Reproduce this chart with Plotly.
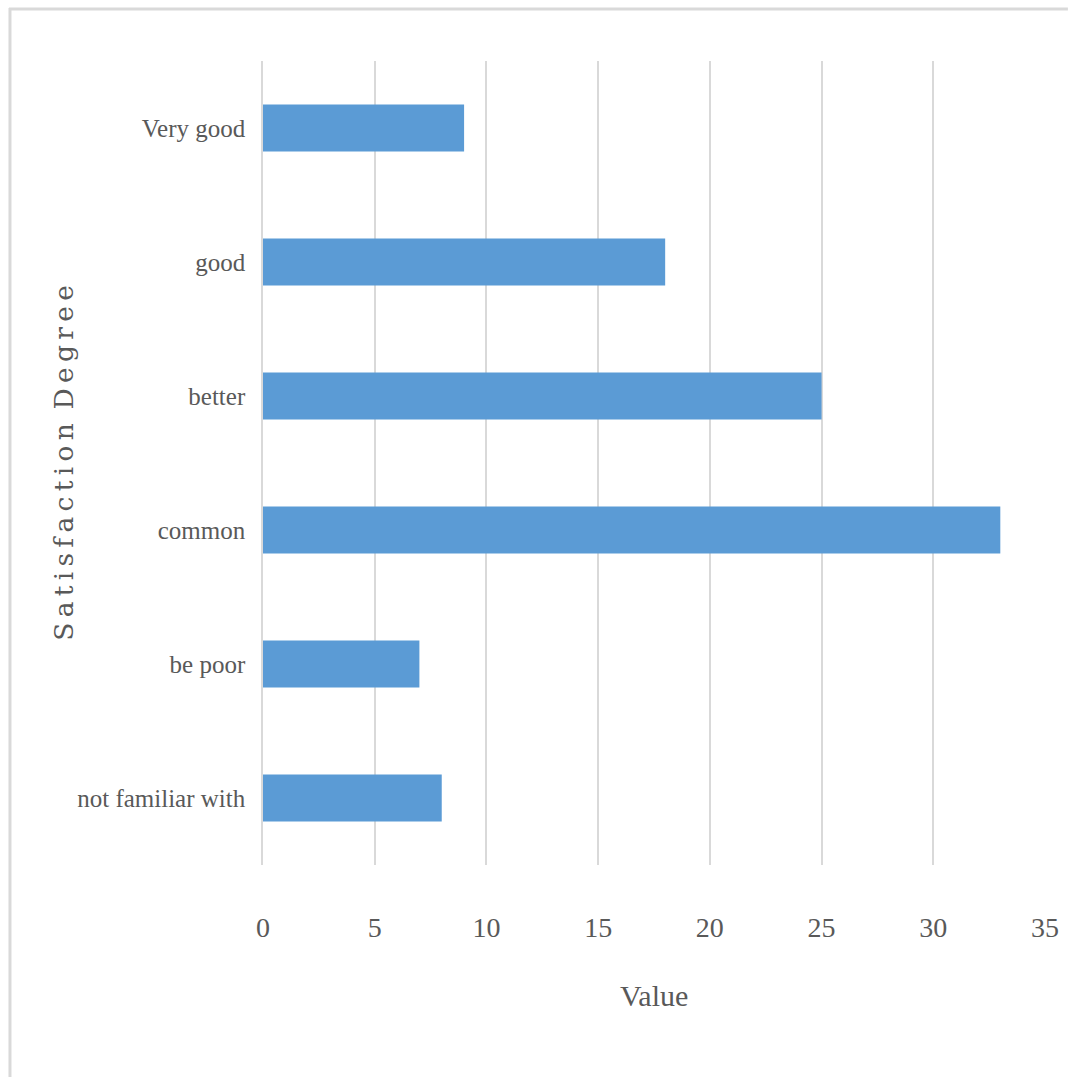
import plotly.graph_objects as go

categories = ["not familiar with", "be poor", "common", "better", "good", "Very good"]
values = [8, 7, 33, 25, 18, 9]
x_ticks = [0, 5, 10, 15, 20, 25, 30, 35]

W, H = 1071, 1077
L, R, T, B = 263, 1071 - 1048, 61, 1077 - 865
pw, ph = W - L - R, H - T - B

def px(x):
    return (x - L) / pw

def py(y):
    return (H - B - y) / ph

fig = go.Figure(go.Bar(
    x=values, y=categories, orientation="h",
    marker=dict(color="#5B9BD5", line=dict(width=0)),
    width=0.35,
))

font_fam = "Liberation Serif, Times New Roman, serif"
fig.update_layout(
    width=W, height=H,
    margin=dict(l=L, r=R, t=T, b=B, pad=0),
    paper_bgcolor="white", plot_bgcolor="white",
    showlegend=False,
    font=dict(family=font_fam, color="#595959", size=24),
    xaxis=dict(
        range=[0, 35], tickvals=x_ticks, ticktext=[str(v) for v in x_ticks],
        showgrid=True, gridcolor="#D9D9D9", gridwidth=1.5,
        zeroline=False, showline=False, ticks="",
        tickfont=dict(size=28, family=font_fam, color="#595959"),
        ticklabelstandoff=43,
    ),
    yaxis=dict(
        categoryorder="array", categoryarray=categories,
        range=[-0.5, 5.5],
        showgrid=False, zeroline=False, showline=True, linecolor="#D9D9D9", linewidth=1.5,
        ticks="", ticklabelstandoff=11,
        tickfont=dict(size=25, family=font_fam, color="#595959"),
    ),
    annotations=[
        dict(text="Value", xref="paper", yref="paper", x=px(655), y=py(995),
             xanchor="center", yanchor="middle", showarrow=False,
             font=dict(size=30, family=font_fam, color="#595959")),
        dict(text="S\u2009a\u2009t\u2009i\u2009s\u2009f\u2009a\u2009c\u2009t\u2009i\u2009o\u2009n\u2009 D\u2009e\u2009g\u2009r\u2009e\u2009e",
             xref="paper", yref="paper", x=px(62), y=py(463),
             xanchor="center", yanchor="middle", showarrow=False, textangle=-90,
             font=dict(size=26.5, family="DejaVu Serif, serif", color="#595959")),
    ],
    shapes=[
        dict(type="line", xref="paper", yref="paper", x0=px(8), x1=px(1071), y0=py(9), y1=py(9),
             line=dict(color="#D9D9D9", width=3)),
        dict(type="line", xref="paper", yref="paper", x0=px(9), x1=px(9), y0=py(8), y1=py(1077),
             line=dict(color="#D9D9D9", width=3)),
    ],
)

fig.write_html("out.html")
